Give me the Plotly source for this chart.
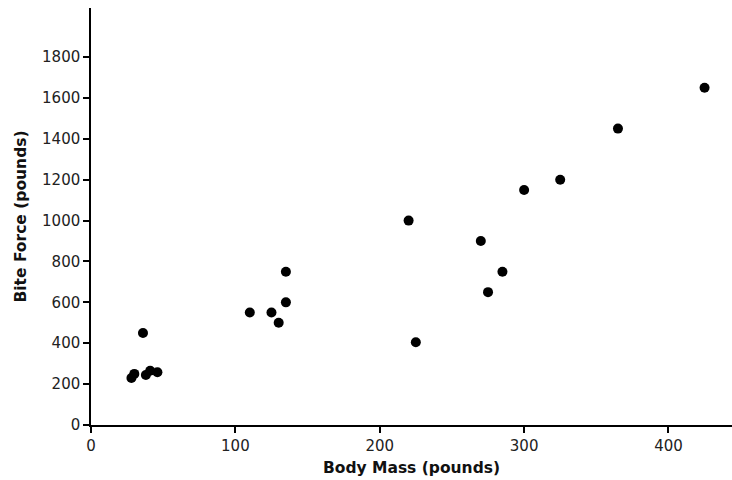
import plotly.graph_objects as go

body_mass = [28, 30, 38, 41, 46, 36, 110, 125, 130, 135, 135, 220, 225, 270, 275, 285, 300, 325, 365, 425]
bite_force = [230, 250, 245, 265, 258, 450, 550, 550, 500, 600, 750, 1000, 405, 900, 650, 750, 1150, 1200, 1450, 1650]

x_ticks = [0, 100, 200, 300, 400]
y_ticks = [0, 200, 400, 600, 800, 1000, 1200, 1400, 1600, 1800]

FONT = "DejaVu Sans"

fig = go.Figure(go.Scatter(
    x=body_mass, y=bite_force, mode="markers",
    marker=dict(size=10, color="black"),
))

axis_common = dict(
    showgrid=False, zeroline=False, showline=True, linecolor="black", linewidth=1.5,
    ticks="outside", ticklen=6, tickwidth=1.5, tickcolor="black",
    tickfont=dict(family=FONT, size=15, color="#222"),
    automargin=False,
)

fig.update_layout(
    width=732, height=480,
    margin=dict(l=91, r=0, t=8, b=55),
    paper_bgcolor="white", plot_bgcolor="white",
    showlegend=False,
    xaxis=dict(range=[0, 444], tickvals=x_ticks, **axis_common,
               title=dict(text="Body Mass (pounds)", standoff=8,
                          font=dict(family=FONT, size=15.5, color="#111", weight="bold"))),
    yaxis=dict(range=[0, 2040], tickvals=y_ticks, **axis_common,
               title=dict(text="Bite Force (pounds)", standoff=12,
                          font=dict(family=FONT, size=15.5, color="#111", weight="bold"))),
)

fig.write_html(
    "out.html",
    config={"displayModeBar": False},
    post_script="document.body.style.margin='0';document.body.style.overflow='hidden';",
)
